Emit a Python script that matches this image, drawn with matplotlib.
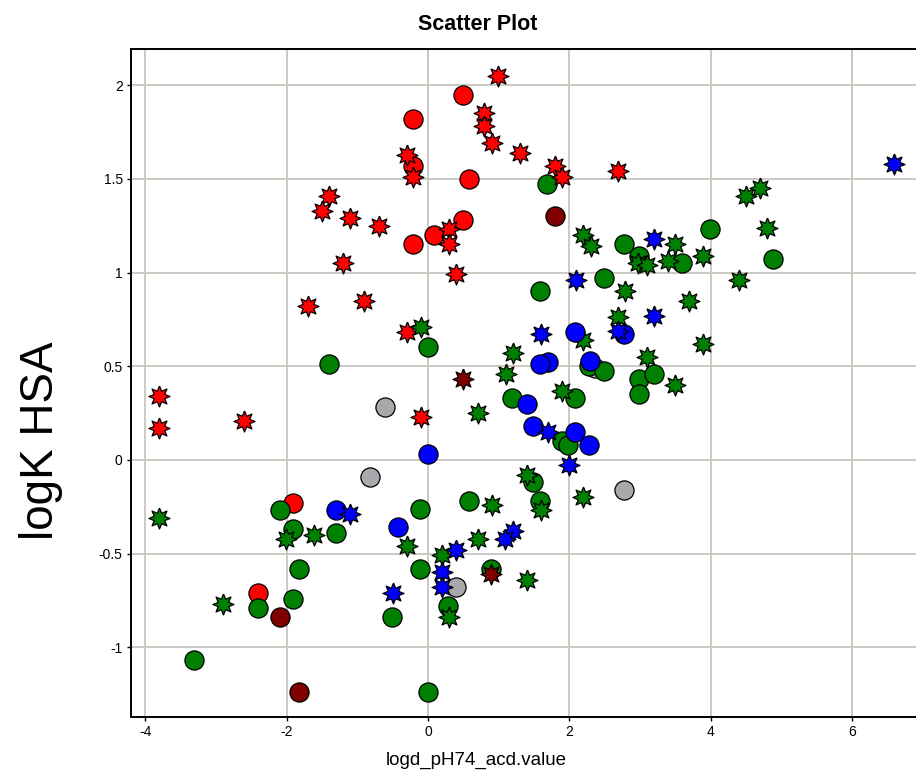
import numpy as np
import matplotlib
matplotlib.use("Agg")
import matplotlib.pyplot as plt

plt.rcParams['font.family'] = ['Liberation Sans', 'DejaVu Sans']
plt.rcParams['axes.unicode_minus'] = False

# ---- data (x = logd_pH74_acd.value, y = logK HSA) ----
red_circle_x = [-0.21, 0.49, -0.21, 0.58, 0.49, 0.09, -0.21, -1.91, -2.40]
red_circle_y = [1.82, 1.95, 1.57, 1.50, 1.28, 1.20, 1.15, -0.23, -0.71]

red_star_x = [0.99, 0.79, 0.79, 0.90, 1.30, -0.30, -0.21, 1.80, 1.90, 2.69, -1.40, -1.50,
              -1.10, -0.69, 0.30, 0.30, -1.20, 0.40, -1.70, -0.90, -0.30, -3.80, -3.80,
              -2.60, -0.10]
red_star_y = [2.05, 1.85, 1.78, 1.69, 1.64, 1.63, 1.51, 1.57, 1.51, 1.54, 1.41, 1.33,
              1.29, 1.25, 1.23, 1.15, 1.05, 0.99, 0.82, 0.85, 0.68, 0.34, 0.17,
              0.21, 0.23]

darkred_circle_x = [1.80, -2.10, -1.82]
darkred_circle_y = [1.30, -0.84, -1.24]
darkred_star_x = [0.50, 0.89]
darkred_star_y = [0.43, -0.61]

gray_circle_x = [-0.61, -0.82, 2.77, 0.40, 2.36]
gray_circle_y = [0.28, -0.09, -0.16, -0.68, 0.49]

blue_circle_x = [2.08, 2.77, 1.70, 1.58, 2.29, 1.40, 1.49, 2.08, 2.28, 0.00, -1.30, -0.42]
blue_circle_y = [0.68, 0.67, 0.52, 0.51, 0.53, 0.30, 0.18, 0.15, 0.08, 0.03, -0.27, -0.36]

blue_star_x = [6.59, 3.20, 2.09, 3.20, 1.60, 2.69, 1.70, 1.99, 1.20, 1.09, -1.10, 0.40,
               0.20, 0.20, -0.50]
blue_star_y = [1.58, 1.18, 0.96, 0.77, 0.67, 0.69, 0.15, -0.03, -0.38, -0.42, -0.29, -0.48,
               -0.60, -0.68, -0.71]

green_circle_x = [1.68, 3.99, 4.88, 2.77, 2.98, 3.59, 2.49, 1.58, 0.00, -1.40, 2.27, 2.49,
                  2.98, 3.20, 2.98, 1.19, 2.08, 1.90, 1.98, 1.49, 1.58, -2.10, -1.91,
                  -1.30, -0.11, 0.58, -1.82, -0.11, 0.89, -2.40, -1.91, -0.51, 0.28,
                  -3.31, 0.00]
green_circle_y = [1.47, 1.23, 1.07, 1.15, 1.09, 1.05, 0.97, 0.90, 0.60, 0.51, 0.50, 0.475,
                  0.43, 0.46, 0.35, 0.33, 0.33, 0.10, 0.08, -0.12, -0.22, -0.27, -0.37,
                  -0.39, -0.26, -0.22, -0.58, -0.58, -0.58, -0.79, -0.74, -0.84, -0.78,
                  -1.07, -1.24]

green_star_x = [-0.10, 1.20, 1.10, 4.50, 4.70, 4.79, 2.19, 2.30, 3.49, 2.97, 3.10, 3.40,
                3.89, 4.40, 2.79, 3.69, 2.69, 2.19, 3.89, 3.10, 3.49, 1.90, 0.71, 1.40,
                2.19, 1.60, 1.40, -3.80, -2.01, -1.61, 0.90, -0.30, 0.71, 0.20, -2.90,
                0.30]
green_star_y = [0.71, 0.57, 0.46, 1.41, 1.45, 1.24, 1.20, 1.14, 1.15, 1.05, 1.04, 1.06,
                1.09, 0.96, 0.90, 0.85, 0.76, 0.64, 0.62, 0.55, 0.40, 0.37, 0.25, -0.08,
                -0.20, -0.27, -0.64, -0.31, -0.42, -0.40, -0.24, -0.46, -0.42, -0.51, -0.77,
                -0.84]

x_ticks = [-4, -2, 0, 2, 4, 6]
y_ticks = [-1, -0.5, 0, 0.5, 1, 1.5, 2]
y_tick_labels = ['-1', '-0.5', '0', '0.5', '1', '1.5', '2']

# ---- star marker (8 points) ----
n = 8
ang = np.pi / 2 + np.arange(2 * n) * np.pi / n
rad = np.where(np.arange(2 * n) % 2 == 0, 1.0, 0.54)
star = list(zip(rad * np.cos(ang), rad * np.sin(ang)))
star.append(star[0])

fig = plt.figure(figsize=(9.16, 7.71), dpi=100)
ax = fig.add_axes([0.143, 0.0704, 0.857, 0.866])

S = 190
SS = S * 1.2
kw = dict(edgecolors='black', linewidths=0.9)
ax.scatter(red_circle_x, red_circle_y, s=S, marker='o', c='#ff0000', zorder=3, **kw)
ax.scatter(gray_circle_x, gray_circle_y, s=S, marker='o', c='#a8a8ad', zorder=3, **kw)
ax.scatter(green_circle_x, green_circle_y, s=S, marker='o', c='#008000', zorder=3, **kw)
ax.scatter(red_star_x, red_star_y, s=SS, marker=star, c='#ff0000', zorder=3, **kw)
ax.scatter(green_star_x, green_star_y, s=SS, marker=star, c='#008000', zorder=3, **kw)
ax.scatter(blue_circle_x, blue_circle_y, s=S, marker='o', c='#0000ff', zorder=3, **kw)
ax.scatter(blue_star_x, blue_star_y, s=SS, marker=star, c='#0000ff', zorder=3, **kw)
ax.scatter(darkred_circle_x, darkred_circle_y, s=S, marker='o', c='#800000', zorder=3, **kw)
ax.scatter(darkred_star_x, darkred_star_y, s=SS, marker=star, c='#800000', zorder=3, **kw)

ax.set_xlim(-4.2, 6.9)
ax.set_ylim(-1.371, 2.193)
ax.set_xticks(x_ticks)
ax.set_xticklabels([str(t) for t in x_ticks])
ax.set_yticks(y_ticks)
ax.set_yticklabels(y_tick_labels)
ax.grid(True, color='#c8c5bd', linewidth=1.3, zorder=0)
ax.set_axisbelow(True)
ax.tick_params(direction='out', length=3, width=1, labelsize=10, colors='black', pad=3)

for side in ['left', 'bottom', 'top']:
    ax.spines[side].set_linewidth(1.4)
    ax.spines[side].set_color('black')
ax.spines['right'].set_visible(False)

ax.set_xlabel('logd_pH74_acd.value', fontsize=13.5)
ax.xaxis.set_label_coords(0.44, -0.052)
ax.set_ylabel('logK HSA', fontsize=33)
ax.yaxis.set_label_coords(-0.086, 0.414)
fig.text(478 / 916, 1 - 24 / 771, 'Scatter Plot', fontsize=15.5, fontweight='bold',
         ha='center', va='center')

fig.savefig('out.png', dpi=100)
